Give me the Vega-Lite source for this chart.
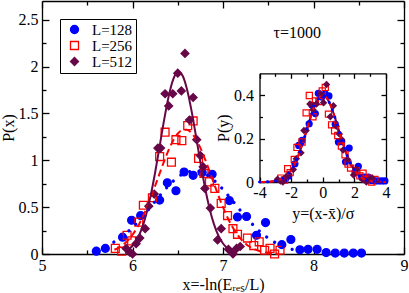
{
  "$schema": "https://vega.github.io/schema/vega-lite/v6.json",
  "width": 362,
  "height": 253,
  "autosize": "none",
  "padding": {"left": 42, "top": 1, "right": 5, "bottom": 39},
  "background": "white",
  "config": {
    "font": "Liberation Serif",
    "view": {"stroke": null},
    "axis": {
      "grid": false, "domainColor": "black", "domainWidth": 1.3, "tickColor": "black", "tickWidth": 1.3,
      "labelColor": "black", "titleColor": "black", "labelFont": "Liberation Serif", "titleFont": "Liberation Serif",
      "labelFontSize": 16, "titleFontSize": 16, "titleFontWeight": "normal",
      "labelFlush": false, "labelOverlap": false, "labelBound": false
    },
    "legend": {
      "orient": "top-left", "offset": 18, "strokeColor": "black", "fillColor": "white", "padding": 3,
      "labelFont": "Liberation Serif", "labelFontSize": 15, "labelColor": "black", "symbolSize": 64,
      "symbolStrokeWidth": 1.3, "labelOffset": 10, "rowPadding": 0, "cornerRadius": 0, "symbolOffset": 4
    }
  },
  "datasets": {
    "main": [
      {"L": "L=128", "x": 5.60, "p": 0.03}, {"L": "L=128", "x": 5.70, "p": 0.06}, {"L": "L=128", "x": 5.89, "p": 0.18},
      {"L": "L=128", "x": 5.99, "p": 0.36}, {"L": "L=128", "x": 6.09, "p": 0.41}, {"L": "L=128", "x": 6.30, "p": 0.575},
      {"L": "L=128", "x": 6.385, "p": 0.76}, {"L": "L=128", "x": 6.48, "p": 0.675}, {"L": "L=128", "x": 6.57, "p": 0.875},
      {"L": "L=128", "x": 6.67, "p": 0.84}, {"L": "L=128", "x": 6.77, "p": 0.87}, {"L": "L=128", "x": 6.88, "p": 0.85},
      {"L": "L=128", "x": 7.07, "p": 0.57}, {"L": "L=128", "x": 7.16, "p": 0.395}, {"L": "L=128", "x": 7.26, "p": 0.40},
      {"L": "L=128", "x": 7.37, "p": 0.20}, {"L": "L=128", "x": 7.47, "p": 0.335}, {"L": "L=128", "x": 7.65, "p": 0.10},
      {"L": "L=128", "x": 7.75, "p": 0.155}, {"L": "L=128", "x": 7.85, "p": 0.045}, {"L": "L=128", "x": 7.94, "p": 0.05},
      {"L": "L=128", "x": 8.04, "p": 0.05}, {"L": "L=128", "x": 8.14, "p": 0.015}, {"L": "L=128", "x": 8.24, "p": 0.01},
      {"L": "L=128", "x": 8.34, "p": 0.01}, {"L": "L=128", "x": 8.44, "p": 0.01}, {"L": "L=128", "x": 8.53, "p": 0.01},
      {"L": "L=256", "x": 5.81, "p": 0.06}, {"L": "L=256", "x": 5.88, "p": 0.03}, {"L": "L=256", "x": 5.94, "p": 0.20},
      {"L": "L=256", "x": 5.99, "p": 0.14}, {"L": "L=256", "x": 6.07, "p": 0.34}, {"L": "L=256", "x": 6.12, "p": 0.52},
      {"L": "L=256", "x": 6.22, "p": 0.60}, {"L": "L=256", "x": 6.30, "p": 1.04}, {"L": "L=256", "x": 6.36, "p": 1.30},
      {"L": "L=256", "x": 6.43, "p": 0.98}, {"L": "L=256", "x": 6.48, "p": 1.22}, {"L": "L=256", "x": 6.545, "p": 1.21},
      {"L": "L=256", "x": 6.61, "p": 1.37}, {"L": "L=256", "x": 6.67, "p": 1.42}, {"L": "L=256", "x": 6.73, "p": 1.02},
      {"L": "L=256", "x": 6.79, "p": 0.86}, {"L": "L=256", "x": 6.85, "p": 0.77}, {"L": "L=256", "x": 6.91, "p": 0.70},
      {"L": "L=256", "x": 6.98, "p": 0.54}, {"L": "L=256", "x": 7.05, "p": 0.41}, {"L": "L=256", "x": 7.11, "p": 0.27},
      {"L": "L=256", "x": 7.16, "p": 0.21}, {"L": "L=256", "x": 7.27, "p": 0.17}, {"L": "L=256", "x": 7.34, "p": 0.09},
      {"L": "L=256", "x": 7.40, "p": 0.13}, {"L": "L=256", "x": 7.46, "p": 0.04}, {"L": "L=256", "x": 7.52, "p": 0.06},
      {"L": "L=256", "x": 7.57, "p": 0.0}, {"L": "L=256", "x": 7.63, "p": 0.04},
      {"L": "L=512", "x": 5.93, "p": 0.06}, {"L": "L=512", "x": 5.97, "p": 0.02}, {"L": "L=512", "x": 6.00, "p": 0.0},
      {"L": "L=512", "x": 6.04, "p": 0.11}, {"L": "L=512", "x": 6.08, "p": 0.17}, {"L": "L=512", "x": 6.14, "p": 0.27},
      {"L": "L=512", "x": 6.18, "p": 0.51}, {"L": "L=512", "x": 6.24, "p": 0.64}, {"L": "L=512", "x": 6.28, "p": 1.13},
      {"L": "L=512", "x": 6.31, "p": 1.13}, {"L": "L=512", "x": 6.36, "p": 1.71}, {"L": "L=512", "x": 6.40, "p": 1.58},
      {"L": "L=512", "x": 6.445, "p": 1.71}, {"L": "L=512", "x": 6.50, "p": 1.93}, {"L": "L=512", "x": 6.54, "p": 1.74},
      {"L": "L=512", "x": 6.58, "p": 2.14}, {"L": "L=512", "x": 6.63, "p": 1.43}, {"L": "L=512", "x": 6.67, "p": 1.67},
      {"L": "L=512", "x": 6.71, "p": 1.22}, {"L": "L=512", "x": 6.75, "p": 1.05}, {"L": "L=512", "x": 6.78, "p": 0.93},
      {"L": "L=512", "x": 6.80, "p": 0.70}, {"L": "L=512", "x": 6.86, "p": 0.49}, {"L": "L=512", "x": 6.94, "p": 0.15},
      {"L": "L=512", "x": 6.98, "p": 0.27}, {"L": "L=512", "x": 7.06, "p": 0.05}, {"L": "L=512", "x": 7.11, "p": 0.0},
      {"L": "L=512", "x": 7.15, "p": 0.06}, {"L": "L=512", "x": 7.19, "p": 0.08}
    ],
    "fit128": [
      {"x": 5.6, "p": 0.0498}, {"x": 5.7, "p": 0.0828}, {"x": 5.8, "p": 0.1311}, {"x": 5.9, "p": 0.1975},
      {"x": 6.0, "p": 0.2832}, {"x": 6.1, "p": 0.3865}, {"x": 6.2, "p": 0.5022}, {"x": 6.3, "p": 0.6210},
      {"x": 6.4, "p": 0.7309}, {"x": 6.5, "p": 0.8188}, {"x": 6.6, "p": 0.8731}, {"x": 6.7, "p": 0.8861},
      {"x": 6.8, "p": 0.8560}, {"x": 6.9, "p": 0.7871}, {"x": 7.0, "p": 0.6888}, {"x": 7.1, "p": 0.5738},
      {"x": 7.2, "p": 0.4549}, {"x": 7.3, "p": 0.3434}, {"x": 7.4, "p": 0.2466}, {"x": 7.5, "p": 0.1686},
      {"x": 7.6, "p": 0.1097}, {"x": 7.7, "p": 0.0680}, {"x": 7.8, "p": 0.0401}, {"x": 7.9, "p": 0.0225}
    ],
    "fit256": [
      {"x": 5.80, "p": 0.0453}, {"x": 5.85, "p": 0.0689}, {"x": 5.90, "p": 0.1019}, {"x": 5.95, "p": 0.1466},
      {"x": 6.00, "p": 0.2052}, {"x": 6.05, "p": 0.2793}, {"x": 6.10, "p": 0.3698}, {"x": 6.15, "p": 0.4761},
      {"x": 6.20, "p": 0.5963}, {"x": 6.25, "p": 0.7263}, {"x": 6.30, "p": 0.8604}, {"x": 6.35, "p": 0.9913},
      {"x": 6.40, "p": 1.1109}, {"x": 6.45, "p": 1.2108}, {"x": 6.50, "p": 1.2835}, {"x": 6.55, "p": 1.3234},
      {"x": 6.60, "p": 1.3270}, {"x": 6.65, "p": 1.2943}, {"x": 6.70, "p": 1.2277}, {"x": 6.75, "p": 1.1327},
      {"x": 6.80, "p": 1.0164}, {"x": 6.85, "p": 0.8871}, {"x": 6.90, "p": 0.7530}, {"x": 6.95, "p": 0.6217},
      {"x": 7.00, "p": 0.4992}, {"x": 7.05, "p": 0.3898}, {"x": 7.10, "p": 0.2961}, {"x": 7.15, "p": 0.2187},
      {"x": 7.20, "p": 0.1572}, {"x": 7.25, "p": 0.1098}, {"x": 7.30, "p": 0.0747}, {"x": 7.35, "p": 0.0494},
      {"x": 7.40, "p": 0.0317}, {"x": 7.45, "p": 0.0198}, {"x": 7.50, "p": 0.0121}, {"x": 7.55, "p": 0.0071},
      {"x": 7.60, "p": 0.0041}
    ],
    "fit512": [
      {"x": 5.95, "p": 0.0466}, {"x": 6.00, "p": 0.0881}, {"x": 6.05, "p": 0.1569}, {"x": 6.10, "p": 0.2632},
      {"x": 6.15, "p": 0.4162}, {"x": 6.20, "p": 0.6199}, {"x": 6.25, "p": 0.8702}, {"x": 6.30, "p": 1.1510},
      {"x": 6.35, "p": 1.4343}, {"x": 6.40, "p": 1.6842}, {"x": 6.45, "p": 1.8635}, {"x": 6.50, "p": 1.9427},
      {"x": 6.55, "p": 1.9083}, {"x": 6.60, "p": 1.7663}, {"x": 6.65, "p": 1.5405}, {"x": 6.70, "p": 1.2658},
      {"x": 6.75, "p": 0.9801}, {"x": 6.80, "p": 0.7151}, {"x": 6.85, "p": 0.4915}, {"x": 6.90, "p": 0.3184},
      {"x": 6.95, "p": 0.1943}, {"x": 7.00, "p": 0.1117}, {"x": 7.05, "p": 0.0606}, {"x": 7.10, "p": 0.0309}
    ],
    "norm": [
      {"y": -4.0, "p": 0.00013}, {"y": -3.75, "p": 0.00035}, {"y": -3.5, "p": 0.00087}, {"y": -3.25, "p": 0.00203},
      {"y": -3.0, "p": 0.00443}, {"y": -2.75, "p": 0.00909}, {"y": -2.5, "p": 0.01753}, {"y": -2.25, "p": 0.03174},
      {"y": -2.0, "p": 0.05399}, {"y": -1.75, "p": 0.08628}, {"y": -1.5, "p": 0.12952}, {"y": -1.25, "p": 0.18265},
      {"y": -1.0, "p": 0.24197}, {"y": -0.75, "p": 0.30114}, {"y": -0.5, "p": 0.35207}, {"y": -0.25, "p": 0.38667},
      {"y": 0.0, "p": 0.39894}, {"y": 0.25, "p": 0.38667}, {"y": 0.5, "p": 0.35207}, {"y": 0.75, "p": 0.30114},
      {"y": 1.0, "p": 0.24197}, {"y": 1.25, "p": 0.18265}, {"y": 1.5, "p": 0.12952}, {"y": 1.75, "p": 0.08628},
      {"y": 2.0, "p": 0.05399}, {"y": 2.25, "p": 0.03174}, {"y": 2.5, "p": 0.01753}, {"y": 2.75, "p": 0.00909},
      {"y": 3.0, "p": 0.00443}, {"y": 3.25, "p": 0.00203}, {"y": 3.5, "p": 0.00087}, {"y": 3.75, "p": 0.00035},
      {"y": 4.0, "p": 0.00013}
    ],
    "inset": [
      {"L": "L=128", "y": -2.36, "p": 0.014}, {"L": "L=128", "y": -2.15, "p": 0.028}, {"L": "L=128", "y": -1.76, "p": 0.084},
      {"L": "L=128", "y": -1.52, "p": 0.168}, {"L": "L=128", "y": -1.31, "p": 0.191}, {"L": "L=128", "y": -0.86, "p": 0.268},
      {"L": "L=128", "y": -0.68, "p": 0.354}, {"L": "L=128", "y": -0.47, "p": 0.315}, {"L": "L=128", "y": -0.28, "p": 0.408},
      {"L": "L=128", "y": -0.06, "p": 0.391}, {"L": "L=128", "y": 0.15, "p": 0.405}, {"L": "L=128", "y": 0.39, "p": 0.396},
      {"L": "L=128", "y": 0.79, "p": 0.266}, {"L": "L=128", "y": 0.99, "p": 0.184}, {"L": "L=128", "y": 1.20, "p": 0.186},
      {"L": "L=128", "y": 1.44, "p": 0.093}, {"L": "L=128", "y": 1.67, "p": 0.156}, {"L": "L=128", "y": 2.04, "p": 0.047},
      {"L": "L=128", "y": 2.25, "p": 0.072}, {"L": "L=128", "y": 2.47, "p": 0.021}, {"L": "L=128", "y": 2.66, "p": 0.023},
      {"L": "L=128", "y": 2.88, "p": 0.023}, {"L": "L=128", "y": 3.09, "p": 0.007}, {"L": "L=128", "y": 3.30, "p": 0.005},
      {"L": "L=128", "y": 3.52, "p": 0.005}, {"L": "L=128", "y": 3.73, "p": 0.005}, {"L": "L=128", "y": 3.93, "p": 0.005},
      {"L": "L=256", "y": -2.65, "p": 0.018}, {"L": "L=256", "y": -2.42, "p": 0.009}, {"L": "L=256", "y": -2.22, "p": 0.061},
      {"L": "L=256", "y": -2.06, "p": 0.043}, {"L": "L=256", "y": -1.80, "p": 0.104}, {"L": "L=256", "y": -1.63, "p": 0.159},
      {"L": "L=256", "y": -1.31, "p": 0.184}, {"L": "L=256", "y": -1.05, "p": 0.318}, {"L": "L=256", "y": -0.85, "p": 0.398},
      {"L": "L=256", "y": -0.62, "p": 0.300}, {"L": "L=256", "y": -0.46, "p": 0.373}, {"L": "L=256", "y": -0.245, "p": 0.370},
      {"L": "L=256", "y": -0.03, "p": 0.419}, {"L": "L=256", "y": 0.16, "p": 0.435}, {"L": "L=256", "y": 0.36, "p": 0.312},
      {"L": "L=256", "y": 0.56, "p": 0.263}, {"L": "L=256", "y": 0.75, "p": 0.236}, {"L": "L=256", "y": 0.95, "p": 0.214},
      {"L": "L=256", "y": 1.18, "p": 0.165}, {"L": "L=256", "y": 1.41, "p": 0.125}, {"L": "L=256", "y": 1.60, "p": 0.083},
      {"L": "L=256", "y": 1.76, "p": 0.064}, {"L": "L=256", "y": 2.12, "p": 0.052}, {"L": "L=256", "y": 2.35, "p": 0.028},
      {"L": "L=256", "y": 2.55, "p": 0.040}, {"L": "L=256", "y": 2.75, "p": 0.012}, {"L": "L=256", "y": 2.94, "p": 0.018},
      {"L": "L=256", "y": 3.10, "p": 0.0}, {"L": "L=256", "y": 3.30, "p": 0.012},
      {"L": "L=512", "y": -2.86, "p": 0.013}, {"L": "L=512", "y": -2.67, "p": 0.004}, {"L": "L=512", "y": -2.52, "p": 0.0},
      {"L": "L=512", "y": -2.33, "p": 0.023}, {"L": "L=512", "y": -2.14, "p": 0.036}, {"L": "L=512", "y": -1.86, "p": 0.057},
      {"L": "L=512", "y": -1.67, "p": 0.107}, {"L": "L=512", "y": -1.38, "p": 0.134}, {"L": "L=512", "y": -1.19, "p": 0.237},
      {"L": "L=512", "y": -1.05, "p": 0.237}, {"L": "L=512", "y": -0.81, "p": 0.359}, {"L": "L=512", "y": -0.62, "p": 0.332},
      {"L": "L=512", "y": -0.40, "p": 0.359}, {"L": "L=512", "y": -0.14, "p": 0.405}, {"L": "L=512", "y": 0.05, "p": 0.365},
      {"L": "L=512", "y": 0.24, "p": 0.449}, {"L": "L=512", "y": 0.48, "p": 0.300}, {"L": "L=512", "y": 0.67, "p": 0.351},
      {"L": "L=512", "y": 0.86, "p": 0.256}, {"L": "L=512", "y": 1.05, "p": 0.221}, {"L": "L=512", "y": 1.19, "p": 0.195},
      {"L": "L=512", "y": 1.29, "p": 0.147}, {"L": "L=512", "y": 1.57, "p": 0.103}, {"L": "L=512", "y": 1.95, "p": 0.032},
      {"L": "L=512", "y": 2.14, "p": 0.057}, {"L": "L=512", "y": 2.52, "p": 0.011}, {"L": "L=512", "y": 2.76, "p": 0.0},
      {"L": "L=512", "y": 2.95, "p": 0.013}, {"L": "L=512", "y": 3.14, "p": 0.017}
    ]
  },
  "layer": [
    {
      "layer": [
        {
          "data": {"name": "main"},
          "mark": {"type": "point", "filled": true, "size": 62, "strokeWidth": 1.3, "opacity": 1},
          "encoding": {
            "x": {"field": "x", "type": "quantitative", "scale": {"domain": [5, 9], "nice": false, "zero": false},
              "axis": {"orient": "bottom", "values": [5, 5.5, 6, 6.5, 7, 7.5, 8, 8.5, 9],
                "tickSize": {"condition": {"test": "datum.value % 1 === 0", "value": -7}, "value": -4},
                "labelPadding": 10, "labelExpr": "datum.value % 1 === 0 ? '' + datum.value : ''",
                "title": "x=-ln(Eᵣₑₛ/L)", "titlePadding": 0}},
            "y": {"field": "p", "type": "quantitative", "scale": {"domain": [0, 2.7], "nice": false},
              "axis": {"orient": "left", "values": [0, 0.25, 0.5, 0.75, 1, 1.25, 1.5, 1.75, 2, 2.25, 2.5],
                "tickSize": {"condition": {"test": "datum.value % 0.5 === 0", "value": -7}, "value": -4},
                "labelPadding": 11, "labelExpr": "datum.value % 0.5 === 0 ? '' + datum.value : ''",
                "title": "P(x)", "titlePadding": 2}},
            "shape": {"field": "L", "type": "nominal", "scale": {"range": ["circle", "square", "diamond"]}, "legend": {"title": null}},
            "fill": {"field": "L", "type": "nominal", "scale": {"range": ["#0000ff", "transparent", "#670748"]}, "legend": {"title": null}},
            "stroke": {"field": "L", "type": "nominal", "scale": {"range": ["#0000ff", "#ff0000", "#670748"]}, "legend": {"title": null}}
          }
        },
        {
          "data": {"name": "fit128"},
          "mark": {"type": "line", "color": "#0000ff", "strokeWidth": 3.3, "strokeDash": [0.01, 9.5], "strokeCap": "round", "interpolate": "monotone"},
          "encoding": {"x": {"field": "x", "type": "quantitative", "axis": null}, "y": {"field": "p", "type": "quantitative", "axis": null}}
        },
        {
          "data": {"name": "fit256"},
          "mark": {"type": "line", "color": "#ff0000", "strokeWidth": 2, "strokeDash": [7, 4], "interpolate": "monotone"},
          "encoding": {"x": {"field": "x", "type": "quantitative", "axis": null}, "y": {"field": "p", "type": "quantitative", "axis": null}}
        },
        {
          "data": {"name": "fit512"},
          "mark": {"type": "line", "color": "#670748", "strokeWidth": 2, "interpolate": "monotone"},
          "encoding": {"x": {"field": "x", "type": "quantitative", "axis": null}, "y": {"field": "p", "type": "quantitative", "axis": null}}
        },
        {
          "data": {"name": "main"},
          "mark": {"type": "point", "opacity": 0},
          "encoding": {
            "x": {"field": "x", "type": "quantitative",
              "axis": {"orient": "top", "values": [5, 5.5, 6, 6.5, 7, 7.5, 8, 8.5, 9],
                "tickSize": {"condition": {"test": "datum.value % 1 === 0", "value": -7}, "value": -4},
                "labels": false, "title": null}},
            "y": {"field": "p", "type": "quantitative",
              "axis": {"orient": "right", "values": [0, 0.25, 0.5, 0.75, 1, 1.25, 1.5, 1.75, 2, 2.25, 2.5],
                "tickSize": {"condition": {"test": "datum.value % 0.5 === 0", "value": -7}, "value": -4},
                "labels": false, "title": null}}
          }
        },
        {
          "data": {"values": [{}]},
          "mark": {"type": "text", "text": "τ=1000", "font": "Liberation Serif", "fontSize": 16, "color": "black", "align": "center", "baseline": "middle"},
          "encoding": {"x": {"datum": 7.82, "type": "quantitative", "axis": null}, "y": {"datum": 2.36, "type": "quantitative", "axis": null}}
        }
      ],
      "resolve": {"axis": {"x": "independent", "y": "independent"}}
    },
    {
      "layer": [
        {
          "data": {"name": "inset"},
          "transform": [{"filter": {"field": "L", "equal": "L=128"}}],
          "mark": {"type": "point", "shape": "circle", "filled": true, "size": 52, "color": "#0000ff", "opacity": 1},
          "encoding": {
            "x": {"field": "y", "type": "quantitative", "scale": {"domain": [-4, 4], "nice": false, "zero": false, "range": [217.5, 344]},
              "axis": {"orient": "bottom", "offset": -72, "values": [-4, -3, -2, -1, 0, 1, 2, 3, 4],
                "tickSize": {"condition": {"test": "datum.value % 2 === 0", "value": -5}, "value": -3},
                "labelPadding": 7, "labelExpr": "datum.value % 2 === 0 ? (datum.value < 0 ? '-' + (-datum.value) : '' + datum.value) : ''",
                "title": "y=(x-x̄)/σ", "titlePadding": 3}},
            "y": {"field": "p", "type": "quantitative", "scale": {"domain": [0, 0.5], "nice": false, "range": [181, 72.3]},
              "axis": {"orient": "left", "offset": -217.5, "values": [0, 0.1, 0.2, 0.3, 0.4],
                "tickSize": {"condition": {"test": "round(datum.value * 10) % 2 === 0", "value": -5}, "value": -3},
                "labelPadding": 11, "labelExpr": "round(datum.value * 10) % 2 === 0 ? '' + datum.value : ''",
                "title": "P(y)", "titlePadding": 2}}
          }
        },
        {
          "data": {"name": "inset"},
          "transform": [{"filter": {"field": "L", "equal": "L=256"}}],
          "mark": {"type": "point", "shape": "square", "filled": false, "size": 38, "color": "#ff0000", "strokeWidth": 1.2, "opacity": 1},
          "encoding": {"x": {"field": "y", "type": "quantitative", "axis": null}, "y": {"field": "p", "type": "quantitative", "axis": null}}
        },
        {
          "data": {"name": "inset"},
          "transform": [{"filter": {"field": "L", "equal": "L=512"}}],
          "mark": {"type": "point", "shape": "diamond", "filled": true, "size": 56, "color": "#670748", "opacity": 1},
          "encoding": {"x": {"field": "y", "type": "quantitative", "axis": null}, "y": {"field": "p", "type": "quantitative", "axis": null}}
        },
        {
          "data": {"name": "norm"},
          "mark": {"type": "line", "color": "#670748", "strokeWidth": 2, "interpolate": "monotone"},
          "encoding": {"x": {"field": "y", "type": "quantitative", "axis": null}, "y": {"field": "p", "type": "quantitative", "axis": null}}
        },
        {
          "data": {"name": "norm"},
          "mark": {"type": "line", "color": "#ff0000", "strokeWidth": 2, "strokeDash": [6, 4], "interpolate": "monotone"},
          "encoding": {"x": {"field": "y", "type": "quantitative", "axis": null}, "y": {"field": "p", "type": "quantitative", "axis": null}}
        },
        {
          "data": {"name": "norm"},
          "mark": {"type": "line", "color": "#0000ff", "strokeWidth": 3, "strokeDash": [0.01, 8], "strokeCap": "round", "interpolate": "monotone"},
          "encoding": {"x": {"field": "y", "type": "quantitative", "axis": null}, "y": {"field": "p", "type": "quantitative", "axis": null}}
        },
        {
          "data": {"name": "inset"},
          "mark": {"type": "point", "opacity": 0},
          "encoding": {
            "x": {"field": "y", "type": "quantitative",
              "axis": {"orient": "top", "offset": -72.3, "values": [-4, -3, -2, -1, 0, 1, 2, 3, 4],
                "tickSize": {"condition": {"test": "datum.value % 2 === 0", "value": -5}, "value": -3},
                "labels": false, "title": null}},
            "y": {"field": "p", "type": "quantitative",
              "axis": {"orient": "right", "offset": -18, "values": [0, 0.1, 0.2, 0.3, 0.4],
                "tickSize": {"condition": {"test": "round(datum.value * 10) % 2 === 0", "value": -5}, "value": -3},
                "labels": false, "title": null}}
          }
        }
      ],
      "resolve": {"axis": {"x": "independent", "y": "independent"}}
    }
  ],
  "resolve": {"scale": {"x": "independent", "y": "independent"}, "axis": {"x": "independent", "y": "independent"}}
}
